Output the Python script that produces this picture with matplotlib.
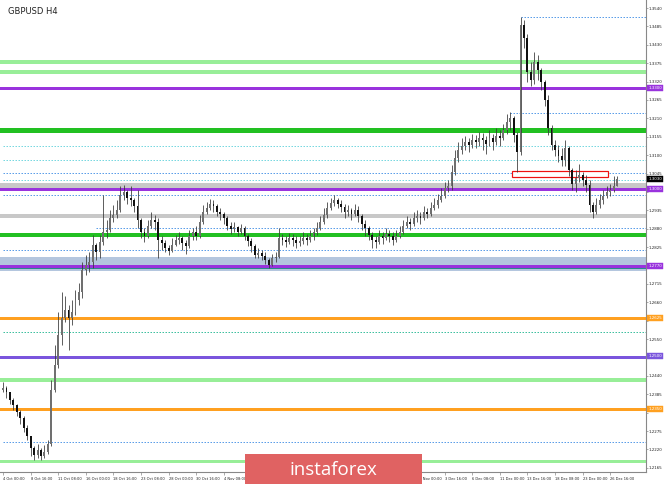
import matplotlib
matplotlib.use("Agg")
import matplotlib.pyplot as plt
from matplotlib.patches import Rectangle
import matplotlib.transforms as mtransforms

# ---------------- data ----------------
title = "GBPUSD H4"

closes = [
    1.2404, 1.2392, 1.2368, 1.2353, 1.2332, 1.2314, 1.2284, 1.2260, 1.2224, 1.2203,
    1.2218, 1.2200, 1.2212, 1.2236, 1.2398, 1.2473, 1.2562, 1.2613, 1.2637, 1.2613,
    1.2631, 1.2667, 1.2691, 1.2757, 1.2772, 1.2781, 1.2831, 1.2810, 1.2840, 1.2870,
    1.2876, 1.2912, 1.2921, 1.2936, 1.2981, 1.2990, 1.2972, 1.2966, 1.2948, 1.2906,
    1.2870, 1.2858, 1.2888, 1.2906, 1.2900, 1.2846, 1.2837, 1.2822, 1.2813, 1.2831,
    1.2846, 1.2852, 1.2837, 1.2828, 1.2858, 1.2870, 1.2858, 1.2900, 1.2930, 1.2942,
    1.2954, 1.2948, 1.2930, 1.2924, 1.2912, 1.2888, 1.2879, 1.2885, 1.2870, 1.2882,
    1.2858, 1.2843, 1.2828, 1.2801, 1.2807, 1.2798, 1.2786, 1.2772, 1.2792, 1.2795,
    1.2852, 1.2846, 1.2840, 1.2852, 1.2846, 1.2837, 1.2843, 1.2852, 1.2846, 1.2858,
    1.2870, 1.2882, 1.2900, 1.2921, 1.2942, 1.2957, 1.2966, 1.2954, 1.2945, 1.2930,
    1.2936, 1.2924, 1.2936, 1.2918, 1.2894, 1.2882, 1.2861, 1.2846, 1.2840, 1.2858,
    1.2852, 1.2864, 1.2858, 1.2846, 1.2858, 1.2870, 1.2888, 1.2900, 1.2894, 1.2912,
    1.2918, 1.2912, 1.2930, 1.2924, 1.2942, 1.2951, 1.2966, 1.2978, 1.3002, 1.3008,
    1.3050, 1.3091, 1.3115, 1.3127, 1.3139, 1.3130, 1.3145, 1.3139, 1.3151, 1.3145,
    1.3133, 1.3151, 1.3139, 1.3157, 1.3151, 1.3175, 1.3199, 1.3211, 1.3160, 1.3109,
    1.3489, 1.3450, 1.3349, 1.3325, 1.3379, 1.3355, 1.3319, 1.3265, 1.3181, 1.3130,
    1.3115, 1.3097, 1.3085, 1.3121, 1.3056, 1.3014, 1.3032, 1.3041, 1.3026, 1.3011,
    1.2951, 1.2930, 1.2951, 1.2966, 1.2978, 1.2990, 1.2996, 1.3008, 1.3029,
]
first_open = 1.2398

highs = [
    1.2422, 1.2410, 1.2392, 1.2374, 1.2356, 1.2338, 1.2320, 1.2293, 1.2260, 1.2230,
    1.2236, 1.2224, 1.2233, 1.2248, 1.2428, 1.2532, 1.2631, 1.2691, 1.2679, 1.2652,
    1.2667, 1.2697, 1.2718, 1.2781, 1.2801, 1.2810, 1.2861, 1.2837, 1.2861, 1.2981,
    1.2906, 1.2936, 1.2951, 1.2966, 1.3008, 1.3011, 1.2996, 1.3008, 1.2972, 1.2996,
    1.2912, 1.2882, 1.2906, 1.2930, 1.2921, 1.2912, 1.2858, 1.2846, 1.2831, 1.2852,
    1.2861, 1.2870, 1.2858, 1.2846, 1.2876, 1.2882, 1.2888, 1.2921, 1.2951, 1.2960,
    1.2969, 1.2966, 1.2954, 1.2942, 1.2930, 1.2918, 1.2900, 1.2900, 1.2888, 1.2894,
    1.2888, 1.2864, 1.2852, 1.2834, 1.2822, 1.2816, 1.2810, 1.2792, 1.2804, 1.2810,
    1.2882, 1.2864, 1.2858, 1.2867, 1.2864, 1.2858, 1.2858, 1.2870, 1.2864, 1.2876,
    1.2882, 1.2900, 1.2918, 1.2942, 1.2960, 1.2972, 1.2981, 1.2972, 1.2966, 1.2954,
    1.2951, 1.2942, 1.2954, 1.2948, 1.2924, 1.2906, 1.2888, 1.2870, 1.2858, 1.2876,
    1.2870, 1.2882, 1.2876, 1.2870, 1.2876, 1.2888, 1.2906, 1.2918, 1.2912, 1.2930,
    1.2936, 1.2930, 1.2948, 1.2942, 1.2960, 1.2972, 1.2984, 1.3002, 1.3020, 1.3026,
    1.3071, 1.3115, 1.3139, 1.3151, 1.3157, 1.3151, 1.3163, 1.3160, 1.3169, 1.3166,
    1.3157, 1.3175, 1.3163, 1.3181, 1.3175, 1.3193, 1.3223, 1.3229, 1.3217, 1.3169,
    1.3513, 1.3504, 1.3462, 1.3379, 1.3408, 1.3399, 1.3361, 1.3325, 1.3280, 1.3190,
    1.3145, 1.3130, 1.3121, 1.3145, 1.3127, 1.3062, 1.3056, 1.3074, 1.3050, 1.3041,
    1.3026, 1.2960, 1.2972, 1.2984, 1.2996, 1.3008, 1.3014, 1.3038, 1.3038,
]

lows = [
    1.2392, 1.2374, 1.2356, 1.2338, 1.2320, 1.2296, 1.2272, 1.2248, 1.2200, 1.2188,
    1.2194, 1.2188, 1.2194, 1.2206, 1.2230, 1.2392, 1.2464, 1.2532, 1.2601, 1.2517,
    1.2592, 1.2622, 1.2652, 1.2673, 1.2742, 1.2751, 1.2763, 1.2786, 1.2792, 1.2831,
    1.2852, 1.2870, 1.2900, 1.2912, 1.2930, 1.2966, 1.2954, 1.2948, 1.2930, 1.2882,
    1.2852, 1.2840, 1.2852, 1.2882, 1.2876, 1.2792, 1.2816, 1.2810, 1.2801, 1.2810,
    1.2828, 1.2834, 1.2816, 1.2804, 1.2822, 1.2846, 1.2846, 1.2852, 1.2894, 1.2924,
    1.2936, 1.2930, 1.2918, 1.2906, 1.2894, 1.2876, 1.2864, 1.2870, 1.2858, 1.2864,
    1.2846, 1.2828, 1.2810, 1.2792, 1.2792, 1.2786, 1.2775, 1.2763, 1.2769, 1.2781,
    1.2792, 1.2831, 1.2825, 1.2834, 1.2828, 1.2822, 1.2828, 1.2834, 1.2831, 1.2840,
    1.2846, 1.2861, 1.2876, 1.2894, 1.2912, 1.2936, 1.2948, 1.2942, 1.2930, 1.2912,
    1.2918, 1.2906, 1.2918, 1.2900, 1.2876, 1.2858, 1.2846, 1.2822, 1.2822, 1.2834,
    1.2834, 1.2846, 1.2840, 1.2831, 1.2840, 1.2852, 1.2864, 1.2882, 1.2876, 1.2888,
    1.2900, 1.2894, 1.2906, 1.2912, 1.2918, 1.2936, 1.2942, 1.2960, 1.2972, 1.2990,
    1.2996, 1.3041, 1.3080, 1.3103, 1.3115, 1.3109, 1.3121, 1.3121, 1.3127, 1.3115,
    1.3103, 1.3127, 1.3115, 1.3130, 1.3127, 1.3145, 1.3163, 1.3175, 1.3139, 1.3050,
    1.3100, 1.3420, 1.3319, 1.3307, 1.3313, 1.3325, 1.3295, 1.3247, 1.3160, 1.3115,
    1.3097, 1.3080, 1.3068, 1.3068, 1.3038, 1.2996, 1.2990, 1.3020, 1.3008, 1.2990,
    1.2930, 1.2912, 1.2924, 1.2942, 1.2954, 1.2972, 1.2978, 1.2990, 1.3008,
]

# date labels; the ones lying fully under the watermark are not visible
x_labels = ["4 Oct 00:00", "8 Oct 16:00", "11 Oct 08:00", "16 Oct 00:00", "18 Oct 16:00",
            "23 Oct 08:00", "28 Oct 00:00", "30 Oct 16:00", "4 Nov 08:00", "", "", "", "",
            "", "", "29 Nov 00:00", "3 Dec 16:00", "6 Dec 08:00", "11 Dec 00:00",
            "13 Dec 16:00", "18 Dec 08:00", "23 Dec 00:00", "26 Dec 16:00"]

y_tick_values = [1.3540, 1.3485, 1.3430, 1.3375, 1.3320, 1.3265, 1.3210, 1.3155, 1.3100,
                 1.3045, 1.2990, 1.2935, 1.2880, 1.2825, 1.2770, 1.2715, 1.2660, 1.2605,
                 1.2550, 1.2495, 1.2440, 1.2385, 1.2330, 1.2275, 1.2220, 1.2165]

# full-width support / resistance levels
level_prices = [1.3379, 1.3349, 1.3300, 1.3175, 1.2999, 1.2918, 1.2861, 1.2770,
                1.2613, 1.2497, 1.2428, 1.2341, 1.2185]
level_colors = ["#98ee98", "#98ee98", "#9933dd", "#22c022", "#9933dd", "#c8c8c8", "#22c022",
                "#9933dd", "#ffa020", "#7a55dd", "#98ee98", "#ffa020", "#98ee98"]
level_widths = [4, 4, 3, 5, 3, 4, 4, 3, 3, 3, 4, 3, 3]

# dotted levels: price, start candle index, colour
dotted_prices = [1.3513, 1.3226, 1.3127, 1.3085, 1.3047, 1.3026, 1.2981, 1.2882, 1.2816,
                 1.2571, 1.2242]
dotted_start = [150, 147, 0, 0, 0, 0, 0, 27, 0, 0, 0]
dotted_colors = ["#5c9ee8", "#5c9ee8", "#78d8e0", "#78d8e0", "#5c9ee8", "#78d8e0", "#5c9ee8",
                 "#5c9ee8", "#5c9ee8", "#40c0a0", "#5c9ee8"]

gray_band = (1.3002, 1.3017)
blue_band = (1.2754, 1.2795)
red_box = (147.5, 175.4, 1.3034, 1.3052)

# right-axis price flags
flag_prices = [1.3300, 1.3030, 1.3000, 1.2770, 1.2613, 1.2500, 1.2341]
flag_texts = ["1.3300", "1.3030", "1.3000", "1.2770", "1.2625", "1.2500", "1.2350"]
flag_colors = ["#9933dd", "#000000", "#9933dd", "#9933dd", "#ffa020", "#7a55dd", "#ffa020"]

# ---------------- figure ----------------
W, H = 665, 484
fig = plt.figure(figsize=(W / 100, H / 100), dpi=100)
ax = fig.add_axes([0, 12 / H, 646 / W, 472 / H])
px = 3.45
ax.set_xlim(-3 / px, (646 - 3) / px)
ax.set_ylim(1.356392 - 0.000299 * 472, 1.356392)

PT = 0.72  # points per pixel

ax.axhspan(*gray_band, color="#c8c8c8", lw=0, zorder=1)
ax.axhspan(*blue_band, color="#b4c6de", lw=0, zorder=1)
ax.axhline(1.2763, color="#2a8a8a", lw=1 * PT, zorder=2)

for p, c, w in zip(level_prices, level_colors, level_widths):
    ax.axhline(p, color=c, lw=w * PT, zorder=2)

x_right = (646 - 3) / px
for p, s, c in zip(dotted_prices, dotted_start, dotted_colors):
    ax.hlines(p, s, x_right, colors=c, lw=1 * PT, linestyles=(0, (1.5, 1.5)), zorder=2)

ax.add_patch(Rectangle((red_box[0], red_box[2]), red_box[1] - red_box[0],
                       red_box[3] - red_box[2], facecolor="white", edgecolor="#ee1111",
                       lw=1.2 * PT, zorder=3))

# candles
n = len(closes)
opens = [first_open] + closes[:-1]
xs = list(range(n))
ax.vlines(xs, lows, highs, colors="#3a3a3a", lw=0.8 * PT, zorder=4)
bull_x = [i for i in xs if closes[i] >= opens[i]]
bear_x = [i for i in xs if closes[i] < opens[i]]
ax.bar(bull_x, [closes[i] - opens[i] for i in bull_x], bottom=[opens[i] for i in bull_x],
       width=0.55, color="#707070", lw=0, zorder=5)
ax.bar(bear_x, [closes[i] - opens[i] for i in bear_x], bottom=[opens[i] for i in bear_x],
       width=0.55, color="#111111", lw=0, zorder=5)

# axes styling
for side in ["left", "top"]:
    ax.spines[side].set_visible(False)
for side in ["right", "bottom"]:
    ax.spines[side].set_color("#888888")
    ax.spines[side].set_linewidth(0.8)

ax.yaxis.tick_right()
ax.set_yticks(y_tick_values)
labels = []
for v in y_tick_values:
    near = any(abs(v - fp) < 0.0014 for fp in flag_prices)
    labels.append("" if near else f"{v:.4f}")
ax.set_yticklabels(labels, fontsize=2.9, color="#222222")
ax.tick_params(axis="y", length=1.2, width=0.5, color="#888888", pad=0.6)

ax.set_xticks([8 * k for k in range(len(x_labels))])
ax.set_xticklabels(x_labels, fontsize=2.6, color="#222222", ha="left")
ax.tick_params(axis="x", length=2.5, width=0.5, color="#888888", pad=1)

trans = mtransforms.blended_transform_factory(ax.transAxes, ax.transData)
for p, t, c in zip(flag_prices, flag_texts, flag_colors):
    ax.text(1.0035, p, t, transform=trans, fontsize=2.9, color="white", va="center",
            ha="left", zorder=20, clip_on=False,
            bbox=dict(boxstyle="square,pad=0.25", facecolor=c, edgecolor=c, lw=0.3))

ax.text(8 / 646, 1 - 12 / 472, title, transform=ax.transAxes, fontsize=6,
        color="#222222", va="center", ha="left", zorder=20)

# watermark
fig.add_artist(Rectangle((245 / W, 0), (422 - 245) / W, 30 / H, transform=fig.transFigure,
                         facecolor="#e06262", edgecolor="none", zorder=30))
fig.text(333 / W, 14 / H, "instaforex", color="white", fontsize=13.5, family="Open Sans",
         ha="center", va="center", zorder=31)

fig.savefig("out.png", dpi=100)
